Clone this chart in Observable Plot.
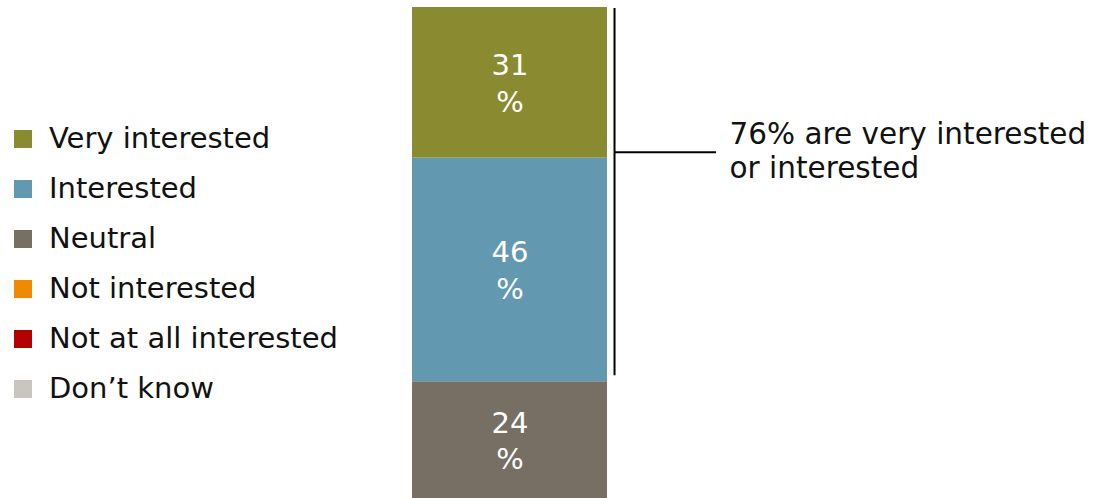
<!DOCTYPE html>
<html>
<head>
<meta charset="utf-8">
<script src="https://cdn.jsdelivr.net/npm/d3@7"></script>
<script src="https://cdn.jsdelivr.net/npm/@observablehq/plot@0.6"></script>
<style>
  html, body { margin: 0; padding: 0; background: #fff; }
  #wrap { position: relative; width: 1094px; height: 498px; font-family: "DejaVu Sans", Verdana, sans-serif; }
  #chart { position: absolute; left: 0; top: 0; }
  #legend { position: absolute; left: 14px; top: 113px; }
  .row { display: flex; align-items: center; height: 50px; font-size: 29px; color: #111; }
  .sw { width: 18px; height: 18px; margin-right: 17px; flex: none; position: relative; top: 1px; }
</style>
</head>
<body>
<div id="wrap">
  <div id="chart"></div>
  <div id="legend"></div>
</div>
<script>
const categories = ["Very interested", "Interested", "Neutral", "Not interested", "Not at all interested", "Don\u2019t know"];
const colors = ["#8a8b30", "#6299b0", "#776e64", "#ee8a00", "#b20000", "#c9c5c1"];
const values = [31, 46, 24, 0, 0, 0];
const annotation = ["76% are very interested", "or interested"];

const data = categories.map((c, i) => ({cat: c, value: values[i]})).filter(d => d.value > 0);
const stackOrder = categories.slice().reverse(); // Neutral at bottom, Very interested on top
const total = d3.sum(values);
const topTwo = values[0] + values[1];
const split = total - values[0];

const plot = Plot.plot({
  width: 1094,
  height: 498,
  marginLeft: 0,
  marginRight: 0,
  marginTop: 7,
  marginBottom: 0,
  style: { fontFamily: "DejaVu Sans, Verdana, sans-serif", background: "transparent" },
  x: { type: "linear", domain: [0, 1], range: [412, 607], axis: null },
  y: { domain: [0, total], axis: null },
  color: { domain: categories, range: colors },
  marks: [
    Plot.rectY(data, Plot.stackY({ x1: 0, x2: 1, y: "value", fill: "cat", z: "cat", order: stackOrder })),
    Plot.text(data, Plot.stackY({
      x: 0.5, y: "value", z: "cat", order: stackOrder,
      text: d => `${d.value}\n%`, fill: "white", fontSize: 29, lineHeight: 1.25, dy: -1
    })),
    Plot.ruleX([total - topTwo], { x: 1.036, y1: total, y2: d => d, stroke: "#000", strokeWidth: 2, insetTop: 1, insetBottom: 6 }),
    Plot.ruleY([split], { y: d => d, x1: 1.036, x2: 1.559, dy: -6, stroke: "#000", strokeWidth: 2 }),
    Plot.text([annotation.join("\n")], {
      x: 1.626, y: split, text: d => d, dy: -8,
      textAnchor: "start", fontSize: 29.5, fill: "#111", lineHeight: 1.17
    })
  ]
});
document.getElementById("chart").appendChild(plot);

const legend = document.getElementById("legend");
categories.forEach((c, i) => {
  const row = document.createElement("div");
  row.className = "row";
  const sw = document.createElement("span");
  sw.className = "sw";
  sw.style.background = colors[i];
  const t = document.createElement("span");
  t.textContent = c;
  row.appendChild(sw); row.appendChild(t);
  legend.appendChild(row);
});
</script>
</body>
</html>
